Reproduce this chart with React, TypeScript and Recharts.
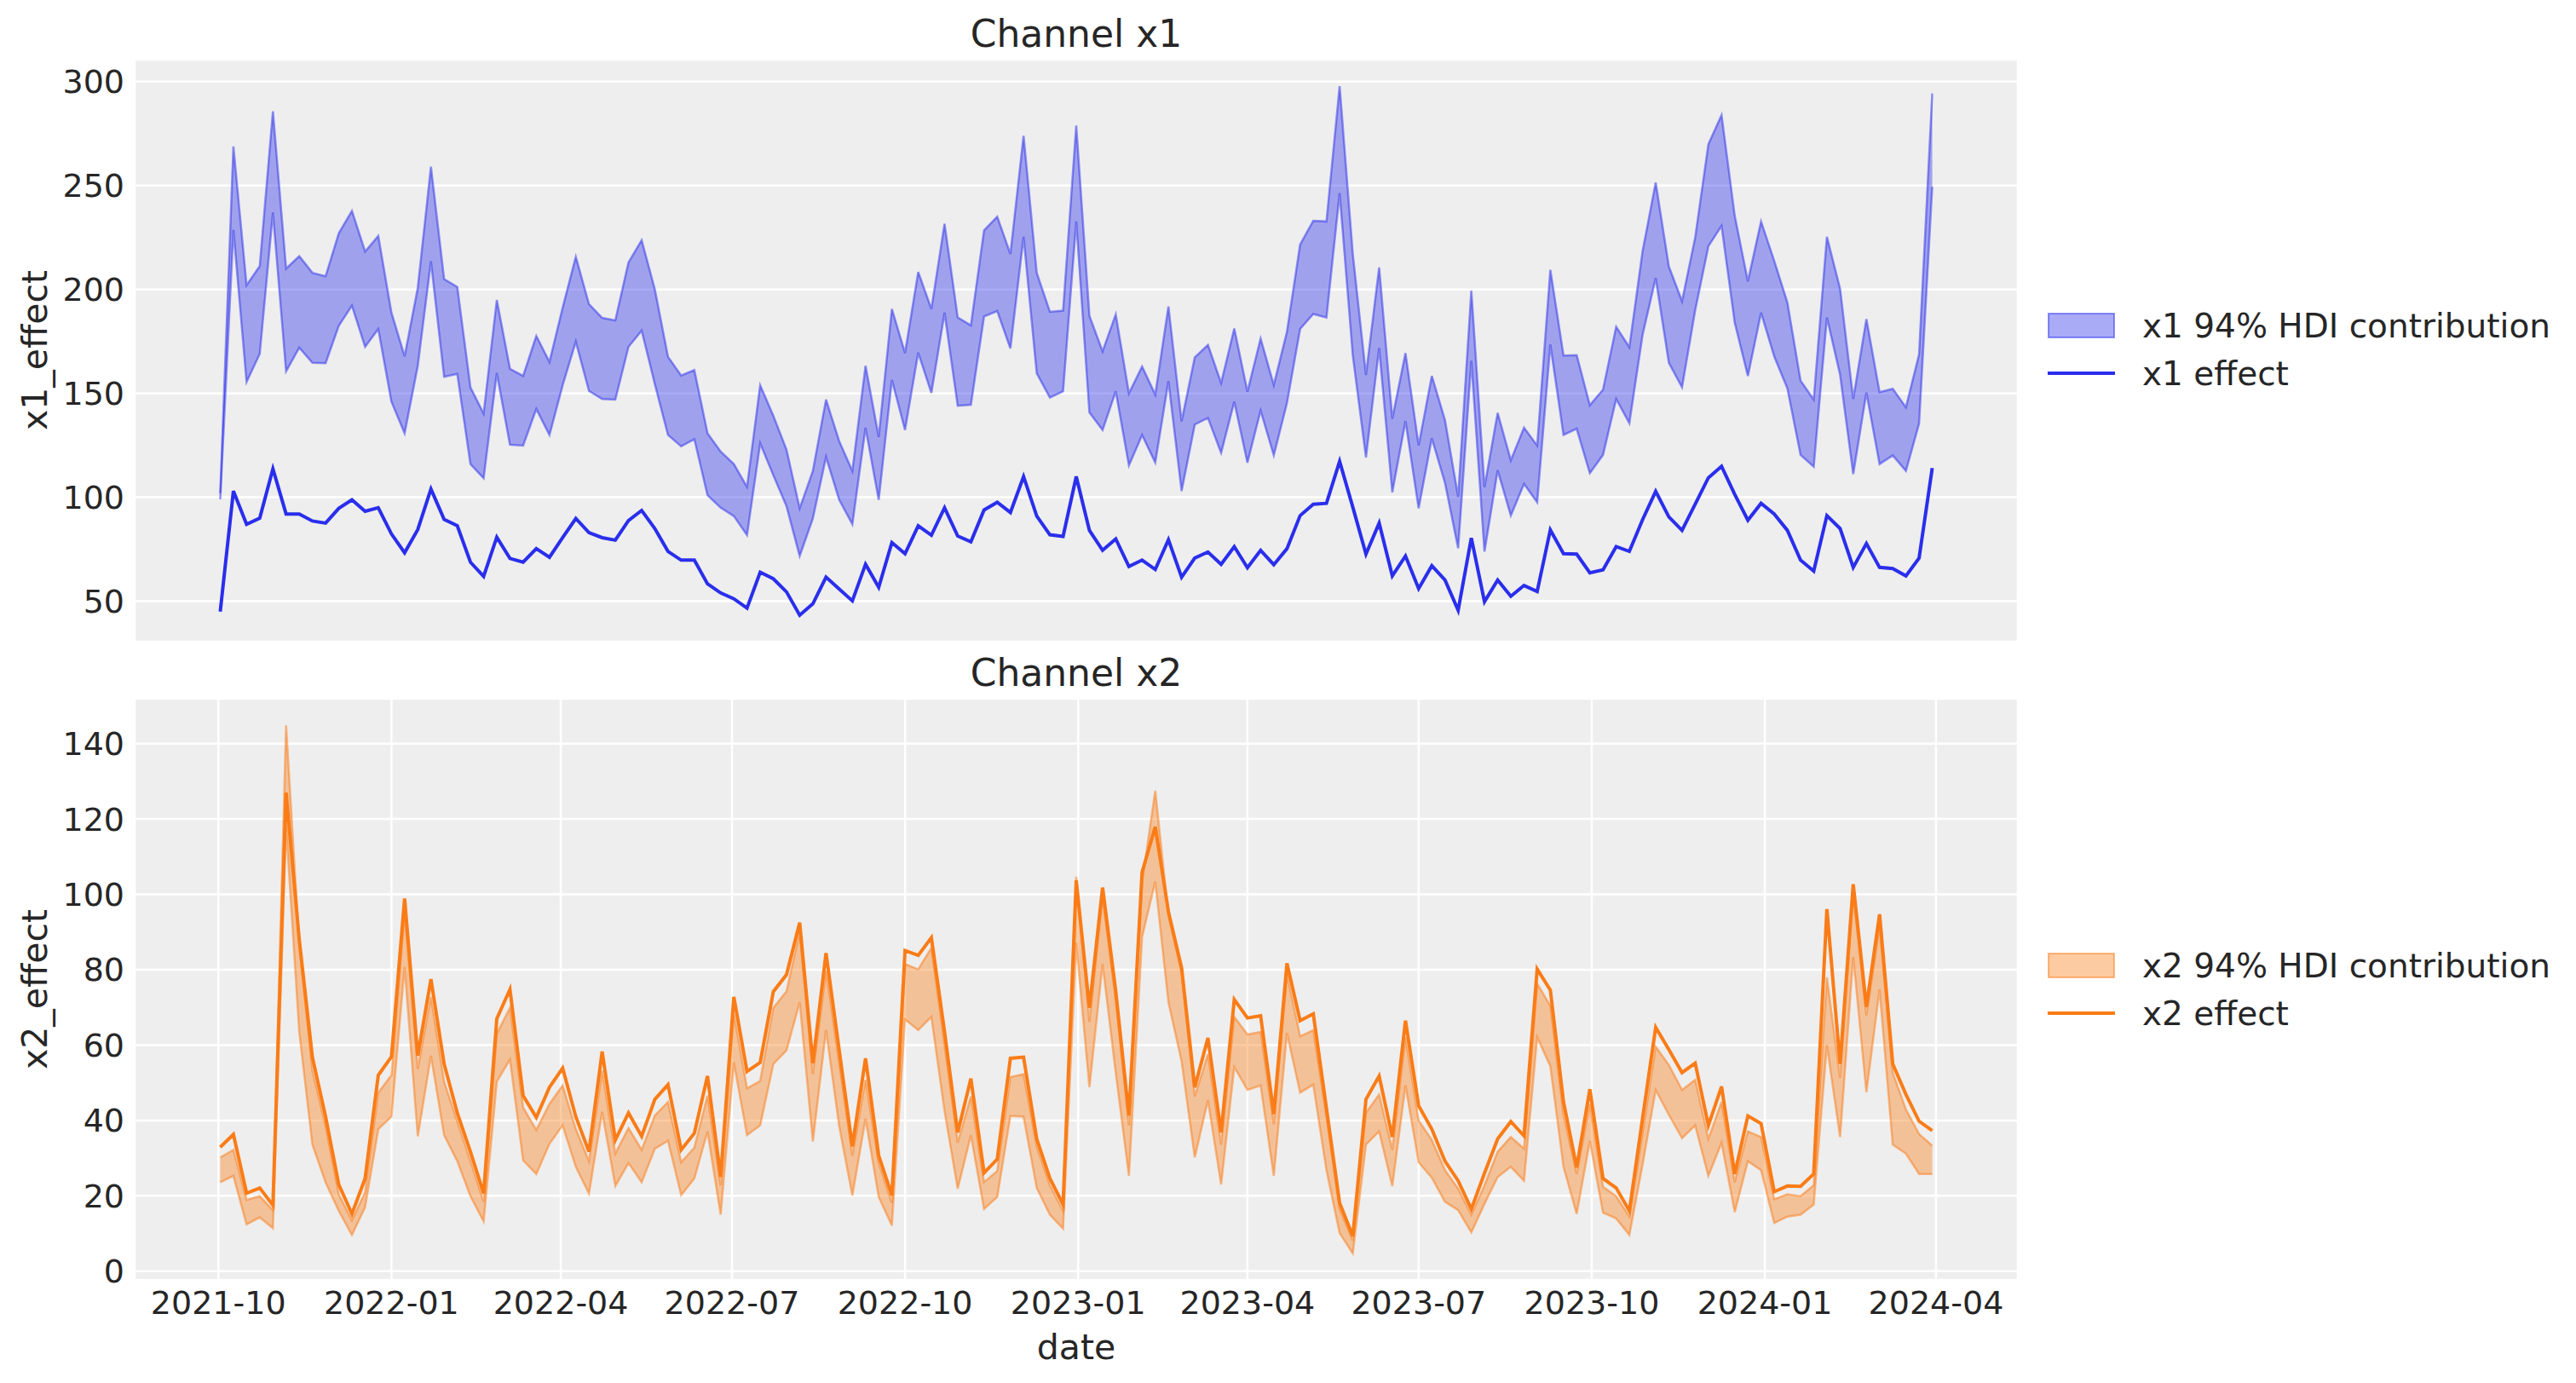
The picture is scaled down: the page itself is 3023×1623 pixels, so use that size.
import { ComposedChart, Area, Line, XAxis, YAxis, CartesianGrid, Legend } from "recharts";

// weekly dates, first week and quarter ticks
const startDate = "2021-10-02";
const tickLabels = [
  "2021-10", "2022-01", "2022-04", "2022-07", "2022-10", "2023-01",
  "2023-04", "2023-07", "2023-10", "2024-01", "2024-04",
];
const x1Ticks = [50, 100, 150, 200, 250, 300];
const x2Ticks = [0, 20, 40, 60, 80, 100, 120, 140];

const x1Mean = [
  45, 103, 87, 90, 113.7, 92, 92, 88.6, 87.6, 94.7,
  98.8, 93.3, 95, 82.4, 73.3, 84.5, 104, 89.4, 86.3, 68.8,
  62, 80.8, 70.6, 68.8, 75.3, 71.2, 80.6, 89.8, 83, 80.6,
  79.4, 88.8, 93.7, 85, 74, 69.8, 69.8, 58.4, 54, 51.2,
  46.7, 64, 60.8, 54.5, 43.3, 48.8, 61.6, 55.9, 50.2, 67.8,
  56.7, 78.2, 72.9, 86.3, 81.8, 95, 81.4, 78.6, 93.9, 97.6,
  92.7, 110, 91, 82, 81.2, 110, 84.1, 74.5, 80, 66.7,
  69.8, 65.3, 79.6, 61.6, 70.8, 73.7, 67.8, 76.3, 66.1, 74.5,
  67.6, 75.3, 91.2, 96.7, 97.1, 117.3, 95.3, 72.7, 87.6, 62.2,
  71.8, 56.1, 67.1, 60.2, 45.7, 80.4, 49.8, 60.2, 52.4, 57.6,
  54.7, 84.3, 72.9, 72.7, 63.7, 65.1, 76.3, 74, 89.2, 102.9,
  90.6, 84.1, 96.7, 109.4, 114.9, 101.4, 89, 97.1, 92, 84.1,
  69.8, 64.5, 91.2, 85, 66.3, 77.8, 66.3, 65.7, 62.2, 70.8,
  114.1,
];
const x1Upper = [
  102, 268.8, 202, 211.2, 285.7, 210, 216, 208, 206.3, 227,
  237.8, 218.2, 225.7, 188.8, 167.8, 200.8, 259, 205, 201.2, 152.9,
  140.2, 194.9, 161.8, 158.4, 177.6, 165.1, 191.2, 215.7, 192.9, 186.3,
  185.1, 213, 223.7, 200, 167.6, 158.6, 161.2, 130.8, 122, 116,
  105, 153.9, 139.2, 122.9, 94.7, 112.7, 147, 127, 112.7, 163.3,
  129, 190.6, 169.4, 208.4, 190.6, 231.6, 186.5, 182.7, 228.4, 235,
  217, 273.9, 208, 189.2, 189.8, 278.8, 187.3, 170.2, 188, 150,
  162.9, 149.4, 191.8, 136.5, 167.3, 173.3, 155, 181.2, 150.8, 176.3,
  154, 179.6, 221.6, 233, 232.7, 297.8, 217, 158.8, 210.6, 137.8,
  169.4, 124.9, 158.4, 137.1, 100.2, 199.4, 104.9, 140.6, 117.8, 133.5,
  124.9, 209.4, 168.2, 168.4, 144.3, 151.8, 182, 172.2, 218.2, 251.4,
  211, 194.3, 225, 269.8, 283.9, 235.5, 203.9, 232.7, 213.7, 193.7,
  156.1, 147, 225.3, 200.4, 147.3, 185.7, 150.6, 152.2, 143.3, 168.8,
  294.3,
];
const x1Lower = [
  99, 228.6, 155.5, 169, 237, 160.6, 172, 164.7, 164.5, 182.5,
  192.2, 172.4, 181, 146, 130.8, 163.3, 213.5, 158, 159.4, 116,
  109.2, 159.8, 125.3, 124.9, 142.5, 130, 153.9, 174.9, 151.2, 147.3,
  147, 172.4, 180.2, 154.5, 130, 124.5, 128, 101, 95, 91,
  81.8, 126, 110.6, 95.7, 71.8, 89.8, 119.4, 98.8, 87, 133.5,
  98.8, 156.5, 132.4, 169.6, 150.2, 188.8, 144, 144.5, 187, 189.6,
  171.6, 225.3, 159.6, 148, 151, 232.7, 140.8, 132.4, 151, 115.3,
  130, 116.7, 155.9, 103, 135, 138.2, 121.4, 146, 116.7, 141.8,
  120.2, 145.3, 181, 188.2, 186.5, 246.3, 168.2, 119.2, 171.8, 102.4,
  136.7, 94.7, 128.4, 107, 75.5, 165.7, 73.9, 113, 91.2, 106.5,
  97.6, 173.5, 130, 133, 111.6, 120.4, 147.3, 135.7, 178, 205.5,
  164.7, 152.9, 190, 220.8, 230.6, 184.1, 158.4, 188.8, 167.8, 152.4,
  120.4, 114.7, 186.5, 159, 111.2, 150.4, 116, 120.2, 112.7, 135.5,
  249.4,
];

const x2Mean = [
  32.9, 36.3, 20.7, 22.1, 17.5, 127, 88, 56.7, 41, 23,
  15.2, 24.6, 52, 56.9, 98.9, 57.2, 77.5, 55, 42, 31.7,
  20.6, 67, 74.8, 46.6, 40.8, 48.8, 53.9, 41, 31.7, 58.3,
  34.8, 42, 35.8, 45.6, 49.5, 32.2, 36.6, 51.8, 25, 72.8,
  53, 55.4, 74.2, 78.7, 92.5, 55.2, 84.4, 58.6, 33.1, 56.5,
  30.7, 20.1, 85.1, 83.8, 88.5, 63.5, 36.8, 51.1, 26.1, 29.7,
  56.5, 56.8, 35.1, 24.6, 17.7, 103.7, 69.9, 101.8, 74.3, 41.3,
  105.9, 117.9, 95.4, 80.5, 48.8, 61.9, 36.8, 72.1, 67.2, 67.8,
  41.7, 81.7, 66.5, 68.3, 43.2, 18.1, 9.3, 45.6, 51.8, 35.6,
  66.5, 43.9, 37.7, 29.2, 24, 16.5, 26, 35.1, 39.7, 35.9,
  80.2, 74.6, 44.9, 27.5, 48.3, 24.6, 22.1, 16, 40.5, 64.7,
  58.8, 52.7, 55.2, 38.7, 49, 25.8, 41.2, 39.2, 21.1, 22.6,
  22.5, 25.8, 96.1, 55, 102.7, 70.1, 94.7, 55, 46.9, 39.8,
  37.3,
];
const x2Upper = [
  30.2, 32.2, 18.9, 19.9, 16.2, 144.9, 86.6, 53.2, 38.5, 20.4,
  13.5, 20.9, 47.4, 52, 95.4, 53.7, 72.8, 50.3, 39.7, 29.2,
  18.4, 63, 69.9, 43.4, 37.5, 44.4, 49.3, 37.7, 29.2, 53.2,
  31.2, 38, 32.2, 41.3, 44.9, 28.9, 32.8, 46.6, 22.8, 68.4,
  48.5, 50.5, 69.9, 74.3, 90, 52.3, 79.7, 55.2, 30.7, 50.8,
  28.7, 18.1, 81.5, 80.1, 85.8, 60.1, 34.1, 46.4, 23.6, 26.6,
  51.5, 52.3, 33.1, 22.8, 16, 104.7, 66.2, 99.3, 71.9, 38.7,
  103.2, 127.5, 94.4, 79.2, 46.4, 57.6, 33.6, 67.5, 62.8, 63.5,
  39, 78.7, 62.3, 64, 41, 16.5, 8.1, 42, 46.9, 32.2,
  62.1, 40, 34.8, 26.8, 21.9, 15, 22.8, 31.7, 35.6, 32.5,
  76.3, 70.4, 41.5, 25.8, 44.4, 22.4, 19.9, 14.5, 36.6, 59.6,
  54.7, 48.1, 50.8, 35.1, 44.9, 23.6, 37.1, 35.6, 19.1, 20.4,
  19.9, 22.8, 78, 51.3, 100.3, 67.9, 91.5, 52.7, 42.9, 36.4,
  33.3,
];
const x2Lower = [
  23.6, 25.3, 12.4, 14.3, 11.4, 118, 63.5, 33.6, 23.6, 16,
  9.6, 17, 37.7, 41, 80.7, 35.8, 57.2, 36.1, 29.2, 19.9,
  13.2, 50.3, 56.2, 29.4, 25.8, 33.8, 38.7, 27.7, 20.6, 42.3,
  22.6, 28.7, 23.6, 32.5, 34.6, 20.2, 24.6, 37.1, 15, 55.4,
  36.1, 38.7, 55, 58.6, 71.4, 34.4, 64, 38.5, 20.1, 40.5,
  19.7, 12.1, 66.8, 64, 67.5, 42.5, 21.9, 36.1, 16.5, 19.7,
  41.2, 41, 22.1, 15, 11.3, 87.1, 48.8, 81.5, 52.7, 25.3,
  88.7, 103.4, 71.4, 55.7, 30.2, 45.4, 23, 54.2, 48.1, 49.3,
  25.3, 63.2, 47.4, 49.5, 26.8, 10.1, 4.7, 33.6, 37.1, 22.6,
  49.3, 28.9, 24.8, 18.4, 16.2, 10.3, 17.9, 25, 27.7, 24,
  62.1, 54.4, 27.7, 15.2, 34.6, 15.5, 14, 9.6, 28.2, 48.1,
  41.5, 35.3, 38.7, 25.3, 34.1, 15.7, 29.2, 26.8, 12.8, 14.5,
  15, 17.7, 60, 35.6, 83.4, 47.5, 74.8, 33.6, 31.2, 25.8,
  25.8,
];

const FONT = "'DejaVu Sans', sans-serif";
const TEXT = "#262626";
const BLUE = "#2a2eec";
const ORANGE = "#fa7c17";
const WEEK = 7 * 24 * 3600 * 1000;

const t0 = Date.parse(startDate + "T00:00:00Z");
const dates = x1Mean.map((_, i) => t0 + i * WEEK);
const tickTimes = tickLabels.map((s) => Date.parse(s + "-01T00:00:00Z"));

// matplotlib style 5% margins
function padded(lo: number, hi: number): [number, number] {
  const m = (hi - lo) * 0.05;
  return [lo - m, hi + m];
}
const xDomain = padded(dates[0], dates[dates.length - 1]);

const fmtMonth = (t: number) => {
  const d = new Date(t);
  return `${d.getUTCFullYear()}-${String(d.getUTCMonth() + 1).padStart(2, "0")}`;
};

function LegendBox({ payload }: any) {
  return (
    <div style={{ fontFamily: FONT, fontSize: 39, color: TEXT }}>
      {(payload || []).map((entry: any) => (
        <div key={entry.value} style={{ display: "flex", alignItems: "center", height: 56 }}>
          <svg width={79} height={30} style={{ marginRight: 32, flex: "none" }}>
            {entry.type === "rect" ? (
              <rect x={1} y={1} width={77} height={28} fill={entry.color} fillOpacity={0.4}
                stroke={entry.color} strokeOpacity={0.5} strokeWidth={2} />
            ) : (
              <line x1={0} x2={79} y1={15} y2={15} stroke={entry.color} strokeWidth={4} />
            )}
          </svg>
          <span style={{ whiteSpace: "nowrap" }}>{entry.value}</span>
        </div>
      ))}
    </div>
  );
}

type PanelProps = {
  name: string;
  mean: number[];
  lower: number[];
  upper: number[];
  ticks: number[];
  color: string;
  height: number;
  top: number;
  bottom: number;
  legendTop: number;
  showDates: boolean;
};

function Panel({ name, mean, lower, upper, ticks, color, height, top, bottom, legendTop, showDates }: PanelProps) {
  const data = dates.map((t, i) => ({ t, band: [lower[i], upper[i]], effect: mean[i] }));
  const yDomain = padded(Math.min(...lower, ...mean), Math.max(...upper, ...mean));
  const axisHeight = showDates ? 60 : 1;
  return (
    <ComposedChart
      width={3023}
      height={height}
      data={data}
      margin={{ top, right: 655, bottom: bottom - axisHeight, left: 0 }}
    >
      <CartesianGrid stroke="#ffffff" strokeWidth={2.5} fill="#eeeeee" fillOpacity={1} />
      <XAxis
        type="number"
        dataKey="t"
        domain={xDomain}
        ticks={tickTimes}
        allowDataOverflow
        height={axisHeight}
        axisLine={false}
        tickLine={false}
        tickSize={0}
        tickMargin={13}
        tick={showDates ? { fill: TEXT, fontSize: 38, fontFamily: FONT } : false}
        tickFormatter={fmtMonth}
      />
      <YAxis
        type="number"
        domain={yDomain}
        ticks={ticks}
        allowDataOverflow
        width={158}
        axisLine={false}
        tickLine={false}
        tickSize={0}
        tickMargin={12}
        tick={{ fill: TEXT, fontSize: 38, fontFamily: FONT }}
      />
      <Area
        type="linear"
        dataKey="band"
        name={`${name} 94% HDI contribution`}
        legendType="rect"
        fill={color}
        fillOpacity={0.4}
        stroke={color}
        strokeOpacity={0.5}
        strokeWidth={2.5}
        isAnimationActive={false}
      />
      <Line
        type="linear"
        dataKey="effect"
        name={`${name} effect`}
        legendType="line"
        stroke={color}
        strokeWidth={4}
        dot={false}
        activeDot={false}
        isAnimationActive={false}
      />
      <Legend
        layout="vertical"
        align="center"
        verticalAlign="middle"
        content={<LegendBox />}
        wrapperStyle={{ left: 2403, top: legendTop, width: 620 }}
      />
    </ComposedChart>
  );
}

export default function App() {
  return (
    <div style={{ position: "absolute", left: 0, top: 0, width: 3023, height: 1623, background: "#ffffff", fontFamily: FONT }}>
      <div style={{ position: "absolute", left: 0, top: 0 }}>
        <Panel name="x1" mean={x1Mean} lower={x1Lower} upper={x1Upper} ticks={x1Ticks} color={BLUE}
          height={780} top={70} bottom={27} legendTop={354} showDates={false} />
      </div>
      <div style={{ position: "absolute", left: 0, top: 780 }}>
        <Panel name="x2" mean={x2Mean} lower={x2Lower} upper={x2Upper} ticks={x2Ticks} color={ORANGE}
          height={843} top={40} bottom={121} legendTop={325} showDates={true} />
      </div>
      <svg width={3023} height={1623} style={{ position: "absolute", left: 0, top: 0, pointerEvents: "none" }}>
        <g fontFamily={FONT} fill={TEXT}>
          <text x={1263} y={55} fontSize={44} textAnchor="middle">Channel x1</text>
          <text x={1263} y={805} fontSize={44} textAnchor="middle">Channel x2</text>
          <text x={1263} y={1595} fontSize={41} textAnchor="middle">date</text>
          <text x={55} y={411} fontSize={41} textAnchor="middle" transform="rotate(-90 55 411)">x1_effect</text>
          <text x={55} y={1161} fontSize={41} textAnchor="middle" transform="rotate(-90 55 1161)">x2_effect</text>
        </g>
      </svg>
    </div>
  );
}
